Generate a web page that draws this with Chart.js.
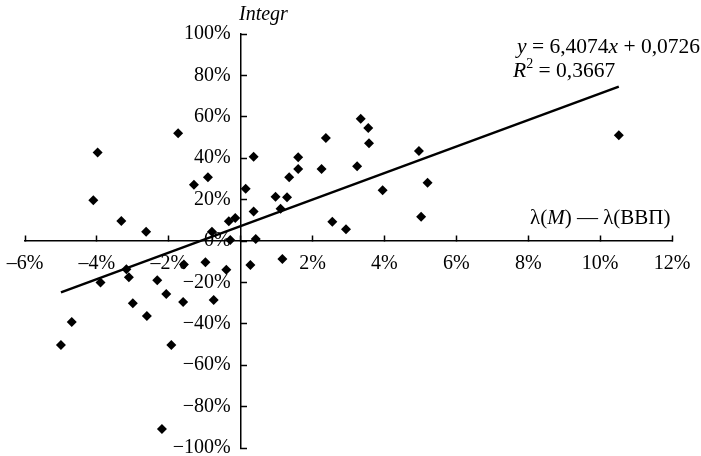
<!DOCTYPE html>
<html>
<head>
<meta charset="utf-8">
<script src="https://cdn.jsdelivr.net/npm/chart.js@4"></script>
<style>
  html, body { margin: 0; padding: 0; background: #fff; }
  #wrap { width: 701px; height: 456px; }
</style>
</head>
<body>
<div id="wrap"><canvas id="c" width="701" height="456"></canvas></div>
<script>
// λ(M) − λ(ВВП), %
const xValues = [-5.0, -4.7, -4.1, -3.98, -3.9, -3.32, -3.18, -3.11, -3.0, -2.63,
  -2.61, -2.32, -2.07, -1.74, -1.93, -2.19, -1.6, -1.58, -1.3, -0.91,
  -0.98, -0.8, -0.75, -0.4, -0.33, -0.15, -0.29, 0.14, 0.36, 0.42,
  0.27, 0.36, 1.16, 0.97, 1.29, 1.11, 1.35, 1.6, 1.6, 2.25,
  2.37, 2.55, 2.93, 3.34, 3.55, 3.57, 3.24, 3.95, 4.96, 5.2,
  5.02, 10.52];
// Integr, %
const yValues = [-50.2, -39.1, 19.7, 42.8, -20.1, 9.7, -13.7, -17.5, -30.1, 4.5,
  -36.2, -19.0, -25.6, 52.0, -50.2, -90.8, -29.5, -11.3, 27.2, 30.8,
  -10.3, 4.5, -28.5, -13.9, 9.5, 11.1, 0.5, 25.2, 14.2, 1.0,
  -11.6, 40.7, -8.7, 21.4, 21.1, 15.6, 30.8, 34.8, 40.4, 34.8,
  49.8, 9.3, 5.7, 59.1, 54.6, 47.2, 36.1, 24.5, 43.5, 28.2,
  11.7, 51.1];
// trend line end points
const trendX = [-5.0, 10.52];
const trendY = [-24.8, 74.6];
const xTicks = [-6, -4, -2, 0, 2, 4, 6, 8, 10, 12];
const yTicks = [-100, -80, -60, -40, -20, 0, 20, 40, 60, 80, 100];
const yTitle = 'Integr';
const xTitle = ['λ(', 'M', ') — λ(ВВП)'];
const eqLine1 = ['y', ' = 6,4074', 'x', ' + 0,0726'];
const eqLine2 = ['R', '2', ' = 0,3667'];

const points = xValues.map((x, i) => ({x: x, y: yValues[i]}));
const trend = trendX.map((x, i) => ({x: x, y: trendY[i]}));

const SERIF = '"Liberation Serif", "Times New Roman", serif';
const f = (s, it) => (it ? 'italic ' : '') + s + 'px ' + SERIF;

const annot = {
  id: 'annot',
  afterDraw(chart) {
    const ctx = chart.ctx;
    ctx.save();
    ctx.fillStyle = '#000';
    ctx.textBaseline = 'alphabetic';
    ctx.textAlign = 'left';
    function seg(parts, x, y) {
      for (const p of parts) {
        ctx.font = p[1];
        ctx.fillText(p[0], x, y + (p[2] || 0));
        x += ctx.measureText(p[0]).width;
      }
    }
    seg([[yTitle, f(20, true)]], 239, 20);
    seg([[eqLine1[0], f(21.5, true)], [eqLine1[1], f(21.5)], [eqLine1[2], f(21.5, true)], [eqLine1[3], f(21.5)]], 517, 53);
    seg([[eqLine2[0], f(21.5, true)], [eqLine2[1], f(14), -9], [eqLine2[2], f(21.5)]], 513, 77);
    seg([[xTitle[0], f(21)], [xTitle[1], f(21, true)], [xTitle[2], f(21)]], 530, 224);
    ctx.restore();
  }
};

const noPad = (s) => { s.paddingLeft = 0; s.paddingRight = 0; s.paddingTop = 0; s.paddingBottom = 0; };

new Chart(document.getElementById('c'), {
  type: 'scatter',
  data: {
    datasets: [
      {
        data: points,
        pointStyle: 'rectRot',
        pointRadius: 5,
        pointBackgroundColor: '#000',
        pointBorderColor: '#000',
        pointBorderWidth: 0,
        showLine: false
      },
      {
        type: 'line',
        data: trend,
        borderColor: '#000',
        borderWidth: 2.5,
        pointRadius: 0,
        fill: false,
        tension: 0
      }
    ]
  },
  options: {
    responsive: false,
    animation: false,
    events: [],
    clip: false,
    layout: { padding: { left: 25, right: 29, top: 34, bottom: 8 } },
    plugins: { legend: { display: false }, tooltip: { enabled: false } },
    scales: {
      x: {
        type: 'linear',
        position: { y: 0 },
        min: -6, max: 12,
        afterBuildTicks: (s) => { s.ticks = xTicks.map(v => ({value: v})); },
        afterFit: noPad,
        grid: { drawOnChartArea: false, drawTicks: true, tickLength: -6, tickWidth: 1.5, tickColor: '#000' },
        border: { display: true, color: '#000', width: 1.5 },
        ticks: {
          autoSkip: false,
          maxRotation: 0,
          padding: 17,
          color: '#000',
          font: { family: SERIF, size: 20 },
          callback: (v) => v === 0 ? '' : (v < 0 ? '–' + Math.abs(v) : v) + '%'
        }
      },
      y: {
        type: 'linear',
        position: { x: 0 },
        min: -100, max: 100,
        afterBuildTicks: (s) => { s.ticks = yTicks.map(v => ({value: v})); },
        afterFit: noPad,
        grid: { drawOnChartArea: false, drawTicks: true, tickLength: -7, tickWidth: 1.5, tickColor: '#000' },
        border: { display: true, color: '#000', width: 1.5 },
        ticks: {
          autoSkip: false,
          padding: 0,
          color: '#000',
          font: { family: SERIF, size: 20 },
          callback: (v) => (v < 0 ? '−' + Math.abs(v) : v) + '%  '
        }
      }
    }
  },
  plugins: [annot]
});
</script>
</body>
</html>
